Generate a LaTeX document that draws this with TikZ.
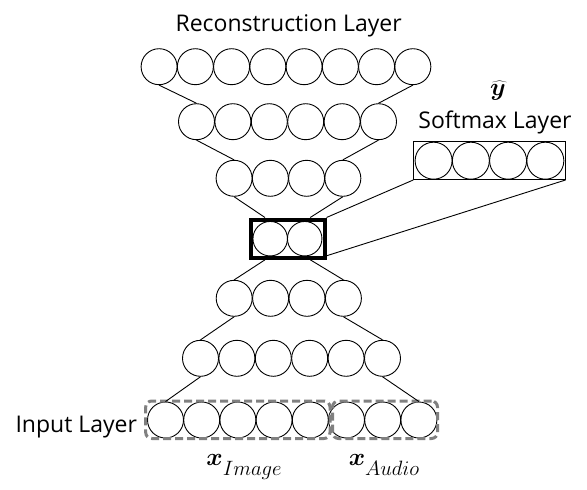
\documentclass[tikz,border=0pt]{standalone}
\usepackage{bm}
\usepackage{fontspec}
\setmainfont{Open Sans}
\newcommand{\xlabel}[1]{{\fontsize{24}{28}\selectfont$\bm{x}$}\raisebox{-10pt}{\fontsize{20}{23}\selectfont$#1$}}
\begin{document}
\begin{tikzpicture}[x=1pt,y=-1pt,
  neuron/.style={circle,draw,line width=0.9pt,minimum size=36pt,inner sep=0pt},
  conn/.style={line width=0.9pt},
  lbl/.style={anchor=base,inner sep=0pt,font=\fontsize{23}{27}\selectfont},
  mlbl/.style={anchor=base,inner sep=0pt},
  dbox/.style={draw={rgb,255:red,128;green,128;blue,128},line width=3pt,dash pattern=on 8pt off 4pt,rounded corners=6pt,inner sep=0pt}]
\useasboundingbox (0,0) rectangle (587,490);
% layers
\foreach \i in {1,...,8} \node[neuron] (a\i) at ({159.1+36.25*(\i-1)},66.7) {};
\foreach \i in {1,...,6} \node[neuron] (b\i) at ({196.5+36.4*(\i-1)},121.7) {};
\foreach \i in {1,...,4} \node[neuron] (c\i) at ({234.1+36.25*(\i-1)},178.3) {};
\foreach \i in {1,...,2} \node[neuron,minimum size=34.5pt] (d\i) at ({270.2+34.5*(\i-1)},238.7) {};
\foreach \i in {1,...,4} \node[neuron] (e\i) at ({234.2+36.4*(\i-1)},298.3) {};
\foreach \i in {1,...,6} \node[neuron] (f\i) at ({200.5+36.4*(\i-1)},358.3) {};
\foreach \i in {1,...,8} \node[neuron] (g\i) at ({165.5+36.2*(\i-1)},420) {};
\foreach \i in {1,...,4} \node[neuron,minimum size=37pt] (s\i) at ({433.6+37.25*(\i-1)},160.7) {};
% boxes
\node[draw,line width=4pt,minimum width=73.5pt,minimum height=38.3pt,inner sep=0pt] (bn) at (287.75,238.65) {};
\node[draw,line width=0.9pt,minimum width=151.4pt,minimum height=38pt,inner sep=0pt] (sm) at (489.5,160.5) {};
\node[dbox,minimum width=184.3pt,minimum height=37.5pt] (img) at (237.85,419.75) {};
\node[dbox,minimum width=105pt,minimum height=37.5pt] (aud) at (385,419.75) {};
% connectors
\draw[conn] (a1.south) -- (b1.north);
\draw[conn] (a8.south) -- (b6.north);
\draw[conn] (b1.south) -- (c1.north);
\draw[conn] (b6.south) -- (c4.north);
\draw[conn] (c1.south) -- (intersection of c1.south--d1.north and bn.north west--bn.north east);
\draw[conn] (c4.south) -- (intersection of c4.south--d2.north and bn.north west--bn.north east);
\draw[conn] (intersection of d1.south--e1.north and bn.south west--bn.south east) -- (e1.north);
\draw[conn] (intersection of d2.south--e4.north and bn.south west--bn.south east) -- (e4.north);
\draw[conn] (e1.south) -- (f1.north);
\draw[conn] (e4.south) -- (f6.north);
\draw[conn] (f1.south) -- (g1.north);
\draw[conn] (f6.south) -- (g8.north);
\draw[conn] (bn.north east) -- (sm.south west);
\draw[conn] ([yshift=4pt]bn.south east) -- (sm.south east);
% labels
\node[lbl] (rl) at (288.7,31.7) {Reconstruction Layer};
\node[lbl] (sl) at (495,128.3) {Softmax Layer};
\node[lbl] (il) at (76.3,432.7) {Input Layer};
\node[mlbl,font=\fontsize{25}{28}\selectfont] (yh) at (498,95) {$\widehat{\bm{y}}$};
\node[mlbl] (xi) at (244,465) {\xlabel{Image}};
\node[mlbl] (xa) at (384,465) {\xlabel{Audio}};
\end{tikzpicture}
\end{document}
